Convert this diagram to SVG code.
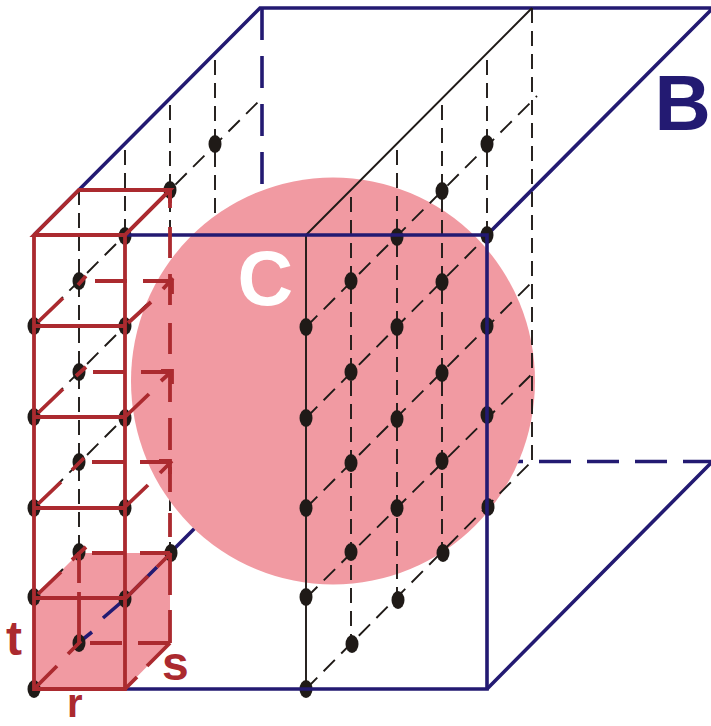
<svg xmlns="http://www.w3.org/2000/svg" width="711" height="726" viewBox="0 0 711 726">
<style>
.k{fill:none;stroke:#1f1a17;stroke-width:1.9}
.kd{stroke-dasharray:16 9}
.kv{stroke-dasharray:15 8}
.b{fill:none;stroke:#231a72;stroke-width:3.6}
.bd{stroke-dasharray:32 16}
.r{fill:none;stroke:#ab2a2f;stroke-width:3.8}
.n{fill:#1f1a17}
text{font-family:"Liberation Sans",Arial,sans-serif;font-weight:bold}
</style>
<rect width="711" height="726" fill="#fff"/>
<g id="cell-face"><polygon points="34,689 34,598 79,553 170,553 170,643 125,689" fill="#f19aa2"/></g>
<g id="connectors-back">
<path class="b" d="M34,235L260,8H711M711,463L487,689M487,235L711,10"/>
<path class="b bd" d="M262,8V190M491,461.500H711"/>
<path class="b" d="M82,640L92,632M103,618L125,599L157,567M170,553L195,528"/>
<path class="k kv" d="M79,190V552M125,150V236M170,105V553M215,60V240"/>
<path class="k kd" d="M34,326L262,98M34,417L262,189M34,508L200,342M34,598L68,564"/>
</g>
<g id="region-C"><ellipse cx="333" cy="381" rx="202" ry="203.500" fill="#f19aa2"/>
<text x="237.500" y="305" font-size="77" fill="#fff">C</text></g>
<g id="connectors-grid">
<path class="k" d="M306,235L532,8M306,235V689"/>
<path class="k kv" d="M351,197V644M397,150V600M442,105V553M487,60V507M532,8V461"/>
<path class="k kd" d="M306,327L537,96M306,418L487,236M306,508L535,279M306,598L536,370M306,689L532,461"/>
</g>
<g id="nodes">
<g id="n1"><ellipse class="n" cx="34" cy="326" rx="6.500" ry="9"/></g>
<g id="n2"><ellipse class="n" cx="34" cy="417" rx="6.500" ry="9"/></g>
<g id="n3"><ellipse class="n" cx="34" cy="508" rx="6.500" ry="9"/></g>
<g id="n4"><ellipse class="n" cx="34" cy="597" rx="6.500" ry="9"/></g>
<g id="n5"><ellipse class="n" cx="34" cy="689" rx="6.500" ry="9"/></g>
<g id="n6"><ellipse class="n" cx="125" cy="236" rx="6.500" ry="9"/></g>
<g id="n7"><ellipse class="n" cx="125" cy="326" rx="6.500" ry="9"/></g>
<g id="n8"><ellipse class="n" cx="125" cy="418" rx="6.500" ry="9"/></g>
<g id="n9"><ellipse class="n" cx="125" cy="508" rx="6.500" ry="9"/></g>
<g id="n10"><ellipse class="n" cx="125" cy="599" rx="6.500" ry="9"/></g>
<g id="n11"><ellipse class="n" cx="79" cy="281" rx="6.500" ry="9"/></g>
<g id="n12"><ellipse class="n" cx="79" cy="372" rx="6.500" ry="9"/></g>
<g id="n13"><ellipse class="n" cx="79" cy="462" rx="6.500" ry="9"/></g>
<g id="n14"><ellipse class="n" cx="79" cy="552" rx="6.500" ry="9"/></g>
<g id="n15"><ellipse class="n" cx="79" cy="643" rx="6.500" ry="9"/></g>
<g id="n16"><ellipse class="n" cx="170" cy="190" rx="6.500" ry="9"/></g>
<g id="n17"><ellipse class="n" cx="171" cy="553" rx="6.500" ry="9"/></g>
<g id="n18"><ellipse class="n" cx="215" cy="144" rx="6.500" ry="9"/></g>
<g id="n19"><ellipse class="n" cx="306" cy="327" rx="6.500" ry="9"/></g>
<g id="n20"><ellipse class="n" cx="306" cy="418" rx="6.500" ry="9"/></g>
<g id="n21"><ellipse class="n" cx="306" cy="508" rx="6.500" ry="9"/></g>
<g id="n22"><ellipse class="n" cx="306" cy="597" rx="6.500" ry="9"/></g>
<g id="n23"><ellipse class="n" cx="306" cy="689" rx="6.500" ry="9"/></g>
<g id="n24"><ellipse class="n" cx="351" cy="281" rx="6.500" ry="9"/></g>
<g id="n25"><ellipse class="n" cx="351" cy="372" rx="6.500" ry="9"/></g>
<g id="n26"><ellipse class="n" cx="351" cy="463" rx="6.500" ry="9"/></g>
<g id="n27"><ellipse class="n" cx="351" cy="552" rx="6.500" ry="9"/></g>
<g id="n28"><ellipse class="n" cx="352" cy="644" rx="6.500" ry="9"/></g>
<g id="n29"><ellipse class="n" cx="397" cy="237" rx="6.500" ry="9"/></g>
<g id="n30"><ellipse class="n" cx="397" cy="327" rx="6.500" ry="9"/></g>
<g id="n31"><ellipse class="n" cx="397" cy="419" rx="6.500" ry="9"/></g>
<g id="n32"><ellipse class="n" cx="397" cy="508" rx="6.500" ry="9"/></g>
<g id="n33"><ellipse class="n" cx="398" cy="600" rx="6.500" ry="9"/></g>
<g id="n34"><ellipse class="n" cx="442" cy="191" rx="6.500" ry="9"/></g>
<g id="n35"><ellipse class="n" cx="442" cy="282" rx="6.500" ry="9"/></g>
<g id="n36"><ellipse class="n" cx="442" cy="373" rx="6.500" ry="9"/></g>
<g id="n37"><ellipse class="n" cx="442" cy="461" rx="6.500" ry="9"/></g>
<g id="n38"><ellipse class="n" cx="443" cy="553" rx="6.500" ry="9"/></g>
<g id="n39"><ellipse class="n" cx="487" cy="144" rx="6.500" ry="9"/></g>
<g id="n40"><ellipse class="n" cx="487" cy="235" rx="6.500" ry="9"/></g>
<g id="n41"><ellipse class="n" cx="487" cy="326" rx="6.500" ry="9"/></g>
<g id="n42"><ellipse class="n" cx="487" cy="415" rx="6.500" ry="9"/></g>
<g id="n43"><ellipse class="n" cx="488" cy="507" rx="6.500" ry="9"/></g>
</g>
<g id="connectors-front">
<path class="b" d="M125,235H487V689H125"/>
</g>
<g id="connectors-cell">
<path class="r" d="M34,235V689H125V235H34L79,190H170L125,235M34,326H125M34,417H125M34,508H125M34,598H125M79,552V583M79,592V643"/>
<path class="r" d="M170,190V208M170,227V258M170,274V305M170,323V354M170,370V402M170,418V450M170,467V492M170,513V537M170,553V595M170,610V643M170,643L147,666M137,677L125,689"/>
<path class="r" d="M95,281H127M143,281H172M93,372H125M141,372H172M92,462H125M140,462H170M92,553H125M140,553H170M90,643H122M138,643H170"/>
<path class="r" d="M38,322L63,298M78,285L86,276M38,413L63,389M76,376L86,367M38,504L61,482M72,470L84,458M38,594L61,572M72,560L86,547M34,689L57,666M68,654L81,641"/>
<path class="r" d="M128,323L151,302M163,289L173,278M125,417L149,394M161,381L172,371M125,507L148,485M160,473L172,461M125,599L148,576M157,567L171,553M125,235L170,190"/>
<path class="r" d="M159,190H170V203M161,281H172V294M161,371H172V384M159,461H170V474"/>
</g>
<text x="654.500" y="129.500" font-size="78" fill="#231a72">B</text>
<text x="6" y="655" font-size="48" fill="#ab2a2f">t</text>
<text x="162" y="680" font-size="48" fill="#ab2a2f">s</text>
<text x="67" y="717" font-size="40" fill="#ab2a2f">r</text>
</svg>
